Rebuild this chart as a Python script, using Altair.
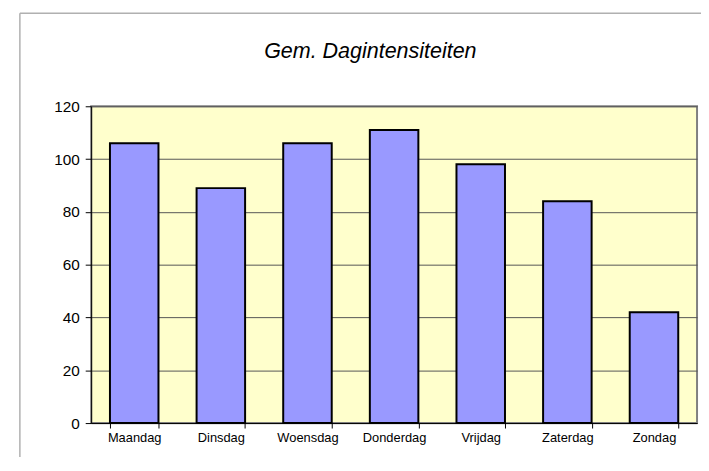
import altair as alt
import pandas as pd

days = ["Maandag", "Dinsdag", "Woensdag", "Donderdag", "Vrijdag", "Zaterdag", "Zondag"]
values = [106, 89, 106, 111, 98, 84, 42]
y_ticks = [0, 20, 40, 60, 80, 100, 120]
title_text = "Gem. Dagintensiteiten"

df = pd.DataFrame({"dag": days, "waarde": values})

FONT = "Liberation Sans"

bars = alt.Chart(df).mark_bar(
    color="#9999FF", stroke="#000000", strokeWidth=2
).encode(
    x=alt.X("dag:N", sort=days, title=None,
            scale=alt.Scale(paddingInner=0.44, paddingOuter=0.217),
            axis=alt.Axis(labelAngle=0, tickBand="extent", tickSize=5,
                          tickColor="#000000", domainColor="#000000",
                          domainWidth=1, labelFontSize=13, labelFont=FONT,
                          labelColor="#000000", labelPadding=4, grid=False)),
    y=alt.Y("waarde:Q", title=None,
            scale=alt.Scale(domain=[0, 120], nice=False),
            axis=alt.Axis(values=y_ticks, tickSize=6, tickColor="#000000",
                          domainColor="#000000", domainWidth=1,
                          labelFontSize=15.5, labelFont=FONT, labelColor="#000000",
                          labelPadding=6, grid=True, gridColor="#555555",
                          gridWidth=1)),
)

border_top = alt.Chart(alt.Data(values=[{"a": 1}])).mark_rule(
    stroke="#b0b0b0", strokeWidth=1.5, clip=False
).encode(
    x=alt.value(-72), x2=alt.value(640), y=alt.value(-94)
)

border_left = alt.Chart(alt.Data(values=[{"a": 1}])).mark_rule(
    stroke="#b0b0b0", strokeWidth=1.5, clip=False
).encode(
    x=alt.value(-72), y=alt.value(-94), y2=alt.value(380)
)

title = alt.Chart(alt.Data(values=[{"t": title_text}])).mark_text(
    fontSize=21.7, fontStyle="italic", font=FONT, color="#000000",
    align="center", baseline="alphabetic", clip=False
).encode(
    x=alt.value(282), y=alt.value(-49), text="t:N"
)

chart = alt.layer(border_top, border_left, bars, title).properties(
    width=612,
    height=320,
    autosize=alt.AutoSizeParams(type="none"),
    padding={"left": 84, "top": 97, "right": 4, "bottom": 32},
    background="#FFFFFF",
).configure_view(
    fill="#FFFFCC", stroke="#808080", strokeWidth=2
)

chart.save("out.html", embed_options={"renderer": "svg", "actions": False})
